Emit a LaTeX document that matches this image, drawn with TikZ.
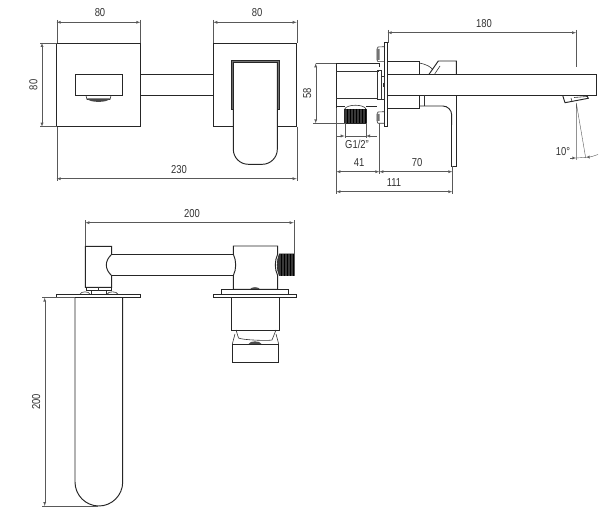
\documentclass[tikz,border=0pt]{standalone}
\usepackage{fontspec}
\setmainfont[FakeStretch=0.82]{Liberation Sans}
\tikzset{>=latex}
\tikzset{
  part/.style={line width=0.95pt,draw=black!85},
  thin part/.style={line width=0.6pt,draw=black!80},
  dimline/.style={line width=0.4pt,draw=black!65},
  dimtext/.style={font=\fontsize{11.5}{13}\selectfont,text=black!80,inner sep=0pt},
  thread/.style={fill=black!78,draw=black!85,line width=0.6pt},
}

\begin{document}
\begin{tikzpicture}[x=1pt,y=-1pt]
  \useasboundingbox[fill=white] (0,0) rectangle (611,513);
  
  % HELP FUNCTION
  \def\dimH(#1,#2,#3,#4,#5,#6){ % xleft, xright, y, name, xlabel, label
    \draw[<->,dimline] (#1,#3) -- (#2,#3);
    \node[dimtext] (#4) at (#5,#3-9.5) {#6};
  }
  \def\dimV(#1,#2,#3,#4,#5){ % x, ytop, ybottom, name, label
    \draw[<->,dimline] (#1,#2) -- (#1,#3);
    \node[dimtext,rotate=90] (#4) at (#1-8.5,{(#2+#3)/2}) {#5};
  }
  
  % FRONT VIEW
  \draw[part] (56.7,43) rectangle (140.3,126.7);
  \draw[part] (75,74.3) rectangle (122.3,95.7);
  \draw[part] (140.3,74) -- (213.3,74) (140.3,95.7) -- (213.3,95.7);
  \draw[thin part] (86,95.7) -- (87,99.5) -- (110,99.5) -- (111,95.7);
  \fill[black!72] (87,98.5) -- (110,98.5) .. controls (108,103) and (89,103) .. (87,98.5) -- cycle;
  \draw[part] (232.7,126.7) -- (213.3,126.7) -- (213.3,43) -- (296.7,43)
              -- (296.7,126.7) -- (277.3,126.7);
  \draw[part,fill=black!55] (231,109) -- (231,60.7) -- (279.3,60.7) -- (279.3,109)
              -- (277.3,109) -- (277.3,62.5) -- (233.3,62.5) -- (233.3,109) -- cycle;
  \draw[part,rounded corners=15pt] (233.3,62) -- (233.3,164.3) -- (277.3,164.3) -- (277.3,62);
  
  % FRONT VIEW, DIMENSIONS
  \draw[dimline] (56.7,20) -- (56.7,43) (140.3,20) -- (140.3,43);
  \draw[dimline] (213.3,20) -- (213.3,43) (296.7,20) -- (296.7,43);
  \draw[dimline] (40,43) -- (56.7,43) (40,126.7) -- (56.7,126.7);
  \draw[dimline] (56.7,126.7) -- (56.7,181) (296.7,126.7) -- (296.7,181);
  \dimH(56.7,140.3,22.3,lblfronta,100,80)
  \dimH(213.3,296.7,22.3,lblfrontb,257,80)
  \dimV(42,43,126.7,lblfrontc,80)
  \dimH(56.7,296.7,178.7,lblfrontd,179,230)
  
  % SIDE VIEW, WALL BOX
  \draw[part] (379.3,63.3) -- (336.3,63.3) -- (336.3,108);
  \draw[thin part] (336.3,71.7) -- (379.3,71.7) (336.3,98.3) -- (377,98.3);
  \draw[part] (336.3,106.7) -- (345,106.7) (366,106.7) -- (377,106.7) (379.3,63.3) -- (379.3,67);
  \draw[thin part] (344.7,109) .. controls (347,104) and (364,104) .. (366,109);
  \draw[thread] (344.7,109) rectangle (366,123.3);
  \foreach \ribx in {347,350,...,365}
    \draw[black,line width=0.4pt] (\ribx,109) -- (\ribx,123.3);
  
  % SIDE VIEW, FLANGE AND BOLTS
  \draw[part] (384.3,42.7) rectangle (387.7,126.7);
  \draw[thin part] (384.3,46.7) -- (378,47) -- (377,49) -- (377,60) -- (378,61.7) -- (384.3,61.7);
  \draw[thin part] (384.3,111.7) -- (378,112) -- (377,114) -- (377,121) -- (378,123.3) -- (384.3,123.3);
  \fill[black!55] (377,49) rectangle (379.5,60) (377,114) rectangle (379.5,121);
  \draw[thin part] (377.3,70) rectangle (381,99.3);
  \draw[thin part] (381,76) rectangle (384.3,99);
  \draw[thin part] (383,83) -- (383,87);
  
  % SIDE VIEW, SPOUT
  \draw[part] (387.7,61) -- (419.3,61) -- (419.3,74.3);
  \draw[part] (387.7,74.3) -- (596.7,74.3) -- (596.7,95) -- (387.7,95);
  \draw[thin part] (419.3,63) .. controls (427,64.5) and (431,67) .. (433,70);
  \draw[part] (429,74.3) -- (438.3,61) -- (456.3,61) -- (456.3,74.3);
  \draw[thin part] (434.5,74.3) -- (440,66);
  \draw[part] (387.7,108.3) -- (419.3,108.3) -- (419.3,95);
  \draw[thin part] (424.5,95) -- (424.5,106);
  
  % SIDE VIEW, LEVER
  \draw[part,rounded corners=9pt] (419.3,106) -- (451.7,106) -- (451.7,125);
  \draw[part] (451.7,115) -- (451.7,166) -- (456,166) -- (456,95);
  
  % SIDE VIEW, AERATOR
  \draw[part] (562.7,95.5) -- (565,102.7) -- (588.3,98.3) -- (586.7,95.3);
  \draw[thin part] (571,98) -- (572,101.5) (574,97.5) -- (587,96.5);
  
  % SIDE VIEW, DIMENSIONS
  \draw[dimline] (316,63.3) -- (336.3,63.3) (313,123.3) -- (345,123.3);
  \draw[dimline] (344.7,123.3) -- (344.7,138) (366,123.3) -- (366,138);
  \draw[dimline] (336.3,108) -- (336.3,194) (379.3,123.3) -- (379.3,174);
  \draw[dimline] (452.3,166) -- (452.3,194);
  \draw[dimline] (387.7,30) -- (387.7,42.7) (576,30) -- (576,66.7);
  \draw[dimline] (576.3,103) -- (576.3,160) (576.3,103) -- (585.7,158);
  \dimH(387.7,576,32.7,lblsidea,484,180)
  \dimV(315.7,63.3,123.3,lblsideb,58)
  \draw[dimline,->] (336.3,136) -- (344.7,136);
  \draw[dimline,<-] (366,136) -- (377,136);
  \draw[dimline] (344.7,136) -- (366,136);
  \node[dimtext] (lblsidec) at (357,144.7) {G1/2"};
  \dimH(336.3,379.3,171.7,lblsided,359,41)
  \dimH(379.3,452.3,171.7,lblsidee,417,70)
  \dimH(336.3,452.3,191.7,lblsidef,394,111)
  \draw[dimline,->] (570,158) -- (576.3,158);
  \draw[dimline] (576.3,158) -- (585.7,157.3);
  \draw[dimline,<-] (585.7,157.3) .. controls (590,157) and (594,156) .. (598,154.5);
  \node[dimtext] (lblsideg) at (563,151.7) {10°};
  
  % TOP VIEW, SPOUT SIDE
  \draw[part] (111.7,254.3) -- (111.7,246.3) -- (85.3,246.3) -- (85.3,287.3) -- (111.7,287.3) -- (111.7,275.7)
              .. controls (104.5,269) and (104.5,261) .. (111.7,254.3) -- cycle;
  \draw[part] (111.7,254.3) -- (233.3,254.3) (111.7,275.7) -- (233.3,275.7);
  \draw[part] (86,287.3) rectangle (111,290.7);
  \draw[thin part] (91,290.7) -- (91,294.3) (106,290.7) -- (106,294.3) (98.3,287.3) -- (98.3,290.7);
  \draw[thin part] (80,294.3) .. controls (81,291) and (89,291) .. (90,294.3);
  \draw[thin part] (107,294.3) .. controls (108,291) and (117,291) .. (118,294.3);
  \draw[part] (56.7,294.3) rectangle (140.7,297.7);
  \draw[part] (75,297.7) -- (75,482) .. controls (75,495.2) and (85.7,506) .. (98.85,506)
              .. controls (112,506) and (122.7,495.2) .. (122.7,482) -- (122.7,297.7);
  
  % TOP VIEW, LEVER SIDE
  \draw[part] (233.3,246) -- (277.7,246) -- (277.7,254)
              .. controls (274.5,261) and (274.5,269) .. (277.7,275.7)
              -- (277.7,289.3) -- (233.3,289.3) -- (233.3,275.7)
              .. controls (236.5,269) and (236.5,261) .. (233.3,254) -- cycle;
  \draw[thread] (279.3,254) -- (294.3,254) -- (294.3,275.7) -- (279.3,275.7)
                .. controls (276.5,269) and (276.5,261) .. (279.3,254) -- cycle;
  \foreach \ribx in {281,284,...,293}
    \draw[black,line width=0.4pt] (\ribx,254) -- (\ribx,275.7);
  \fill[black!70] (250,289.3) .. controls (251,286.5) and (259,286.5) .. (260,289.3) -- cycle;
  \draw[part] (221.7,289.3) rectangle (288.3,294.3);
  \draw[part] (213.3,294.3) rectangle (296.7,297.7);
  \draw[part] (231,297.7) -- (231,330) -- (279,330) -- (279,297.7);
  \draw[thin part] (236,330) -- (238.5,338) .. controls (242,340) and (268,341) .. (272,340) -- (276,330);
  \draw[part] (232.3,344) -- (278.7,344) -- (278.7,362.3) -- (232.3,362.3) -- cycle;
  \draw[thin part] (232.3,344) -- (235,334) (278.7,344) -- (276,334);
  \fill[black!70] (248.5,344) .. controls (250,340.5) and (260,340.5) .. (261.5,344) -- cycle;
  
  % TOP VIEW, DIMENSIONS
  \draw[dimline] (85.3,220.5) -- (85.3,246.3) (293.7,220.5) -- (293.7,254);
  \draw[dimline] (42,297.7) -- (75,297.7) (42,506) -- (98,506);
  \dimH(85.3,293.7,222.7,lbltopa,192,200)
  \dimV(44.7,297.7,506,lbltopb,200)
  
\end{tikzpicture}
\end{document}
